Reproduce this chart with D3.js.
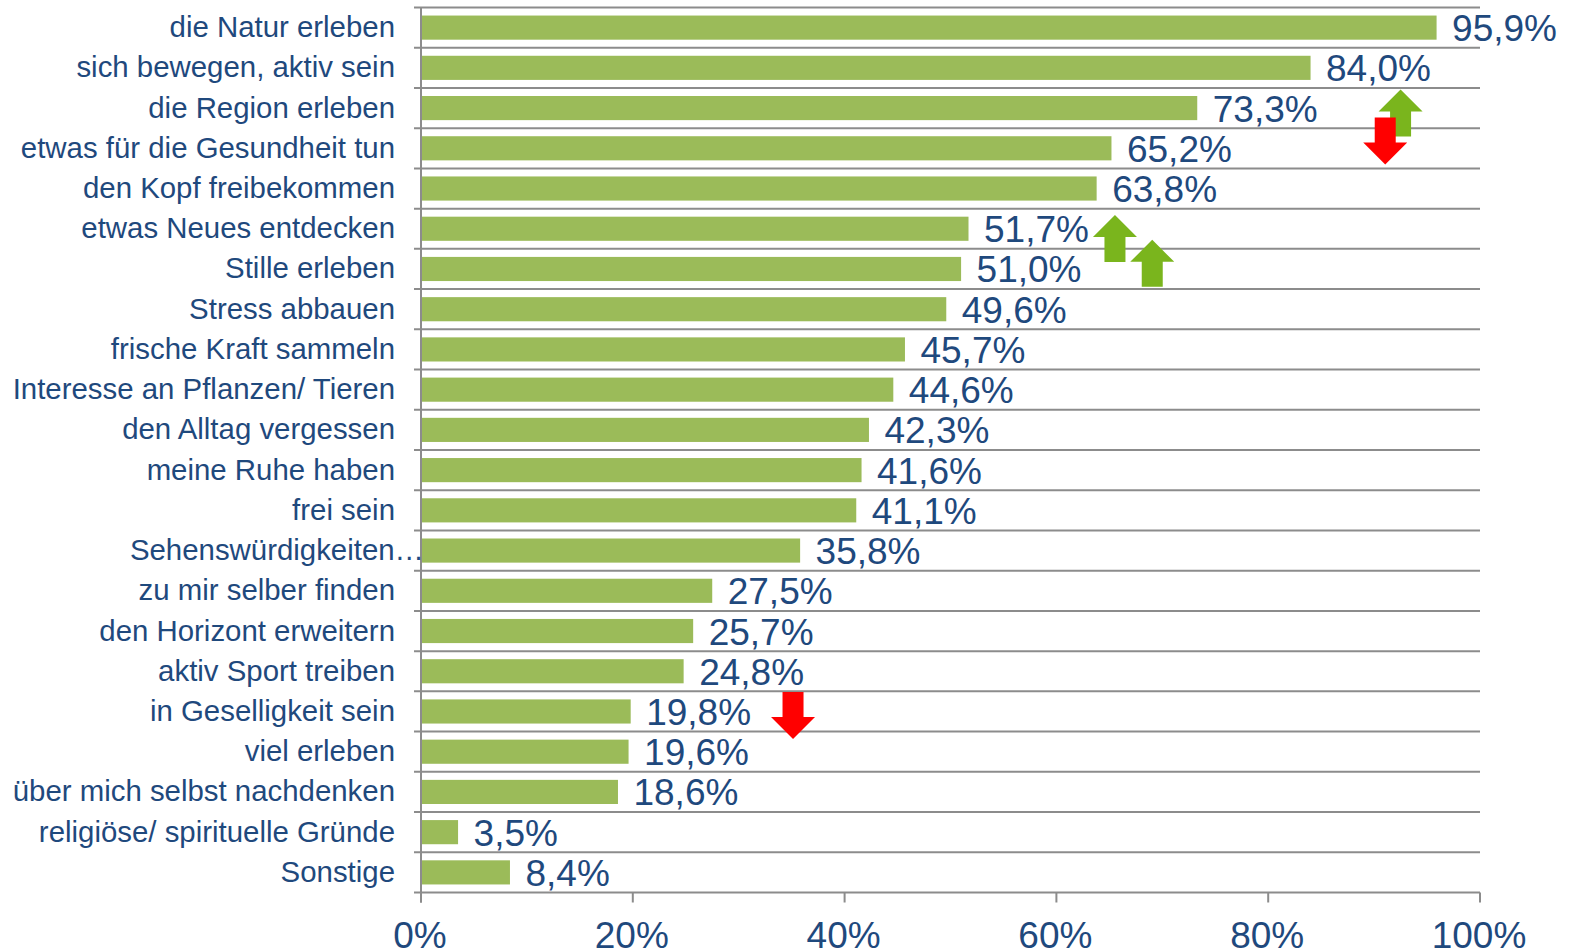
<!DOCTYPE html>
<html><head><meta charset="utf-8">
<script src="https://cdn.jsdelivr.net/npm/d3@7"></script>
<style>html,body{margin:0;padding:0;background:#fff;overflow:hidden}svg{display:block}text{font-family:"Liberation Sans",Arial,sans-serif}</style>
</head><body><svg id="c" width="1569" height="951"></svg>
<script>
const categories=["die Natur erleben","sich bewegen, aktiv sein","die Region erleben","etwas für die Gesundheit tun","den Kopf freibekommen","etwas Neues entdecken","Stille erleben","Stress abbauen","frische Kraft sammeln","Interesse an Pflanzen/ Tieren","den Alltag vergessen","meine Ruhe haben","frei sein","Sehenswürdigkeiten…","zu mir selber finden","den Horizont erweitern","aktiv Sport treiben","in Geselligkeit sein","viel erleben","über mich selbst nachdenken","religiöse/ spirituelle Gründe","Sonstige"];
const values=[95.9,84.0,73.3,65.2,63.8,51.7,51.0,49.6,45.7,44.6,42.3,41.6,41.1,35.8,27.5,25.7,24.8,19.8,19.6,18.6,3.5,8.4];
const xTicks=[0,20,40,60,80,100];
// change markers: x in percent, y in category-band units from the top
const arrowDir=["up","down","up","up","down"];
const arrowX=[92.5,91.05,65.53,69.05,35.13];
const arrowY=[2.62,3.32,5.74,6.36,17.6];

const svg=d3.select("#c");
const x=d3.scaleLinear().domain([0,100]).range([421,1480]);
const yB=d3.scaleBand().domain(categories).range([7.5,892.5]).paddingInner(0.4).paddingOuter(0.2);
const yL=d3.scaleLinear().domain([0,categories.length]).range([7.5,892.5]);
const grey="#8c8c8c",blue="#1f497d",green="#9bbb59";

svg.append("g").selectAll("line").data(d3.range(categories.length+1)).join("line")
 .attr("x1",x(0)-7).attr("x2",x(100)).attr("y1",d=>yL(d)).attr("y2",d=>yL(d))
 .attr("stroke",grey).attr("stroke-width",2);
svg.selectAll("rect.b").data(categories).join("rect").attr("class","b")
 .attr("x",x(0)).attr("y",d=>yB(d)).attr("height",yB.bandwidth())
 .attr("width",(d,i)=>x(values[i])-x(0)).attr("fill",green);
svg.append("line").attr("x1",x(0)).attr("x2",x(0)).attr("y1",yL(0)).attr("y2",yL(22)+10).attr("stroke",grey).attr("stroke-width",2);
svg.append("g").selectAll("line").data(xTicks).join("line")
 .attr("x1",d=>x(d)).attr("x2",d=>x(d)).attr("y1",yL(22)).attr("y2",yL(22)+10).attr("stroke",grey).attr("stroke-width",2);
svg.append("g").selectAll("text").data(categories).join("text")
 .attr("x",d=>x(0)-26+(d.endsWith("…")?29:0)).attr("y",d=>yB(d)+yB.bandwidth()/2+9.5).attr("text-anchor","end")
 .attr("font-size",29.4).attr("fill",blue).text(d=>d);
svg.append("g").selectAll("text").data(values).join("text")
 .attr("x",d=>x(d)+15.5).attr("y",(d,i)=>yB(categories[i])+yB.bandwidth()/2+13.5)
 .attr("font-size",37).attr("fill",blue).text(d=>d.toFixed(1).replace(".",",")+"%");
svg.append("g").selectAll("text").data(xTicks).join("text")
 .attr("x",d=>x(d)-1).attr("y",947.5).attr("text-anchor","middle")
 .attr("font-size",37).attr("fill",blue).text(d=>d+"%");

function arrowPath(up){
 const s=up?-1:1, hw=22, sw=10.5, head=22, len=47;
 // centred on (0,0), tip points up or down
 return d3.line()([[0,s*len/2],[hw,s*(len/2-head)],[sw,s*(len/2-head)],[sw,-s*len/2],[-sw,-s*len/2],[-sw,s*(len/2-head)],[-hw,s*(len/2-head)]])+"Z";
}
svg.append("g").selectAll("path").data(arrowDir).join("path")
 .attr("transform",(d,i)=>`translate(${x(arrowX[i])},${yL(arrowY[i])})`)
 .attr("d",d=>arrowPath(d==="up"))
 .attr("fill",d=>d==="up"?"#7ab51d":"#ff0000");
</script></body></html>
